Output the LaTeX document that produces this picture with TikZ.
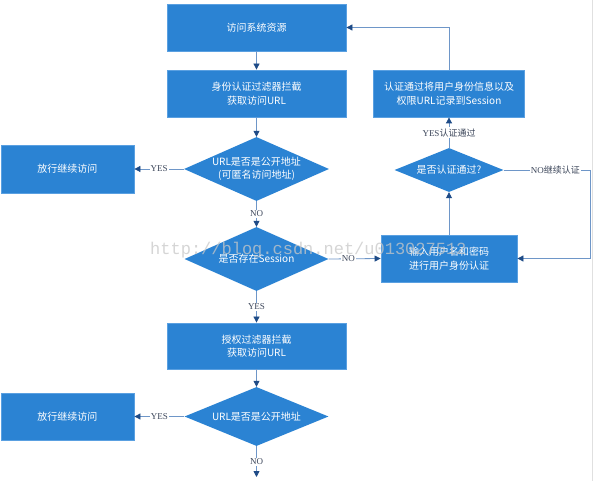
\documentclass[tikz,border=0pt]{standalone}
\usepackage{fontspec}
\setmainfont{Noto Sans CJK SC}
\newfontfamily\latserif{Liberation Serif}
\newfontfamily\wmfont{Liberation Mono}
\usetikzlibrary{shapes.geometric,arrows.meta}
\definecolor{boxblue}{RGB}{43,131,211}
\definecolor{boxedge}{RGB}{90,160,225}
\definecolor{linec}{RGB}{110,150,200}
\definecolor{arrowc}{RGB}{30,75,135}
\definecolor{lblc}{RGB}{60,70,90}
\definecolor{wmc}{RGB}{200,200,200}
\tikzset{
  blk/.style={draw=boxedge, line width=0.8pt, fill=boxblue, text=white, inner sep=0pt,
    align=center, font=\fontsize{10}{13.5}\selectfont},
  dec/.style={diamond, fill=boxblue, draw=none, inner sep=0pt},
  dectext/.style={text=white, align=center, font=\fontsize{10}{13}\selectfont},
  arr/.style={draw=linec, line width=0.8pt, -{Triangle[length=6pt,width=6pt,color=arrowc]}},
  lbl/.style={fill=white, text=lblc, inner sep=1pt, font=\fontsize{9}{10}\selectfont},
}
\begin{document}
\begin{tikzpicture}[x=1pt,y=-1pt]
\useasboundingbox (0,0) rectangle (595,481);
\fill[white] (0,0) rectangle (595,481);
\draw[black!12, line width=1pt] (592.5,0) -- (592.5,481);

% main column
\node[blk, minimum width=179pt, minimum height=47pt] (b1) at (256.5,27.5) {访问系统资源};
\node[blk, minimum width=179pt, minimum height=47pt] (b2) at (256.5,93.5) {身份认证过滤器拦截\\获取访问URL};
\node[dec, minimum width=145pt, minimum height=64pt] (d1) at (256.5,169) {};
\node[dectext] at (d1) {URL是否是公开地址\\(可匿名访问地址)};
\node[blk, minimum width=133pt, minimum height=48pt] (p1) at (67.5,169) {放行继续访问};
\node[dec, minimum width=144pt, minimum height=64pt] (d2) at (256.5,259) {};
\node[dectext] at (d2) {是否存在Session};
\node[blk, minimum width=179pt, minimum height=46pt] (b3) at (256.5,346) {授权过滤器拦截\\获取访问URL};
\node[dec, minimum width=144pt, minimum height=59pt] (d3) at (256.5,416.5) {};
\node[dectext] at (d3) {URL是否是公开地址};
\node[blk, minimum width=133pt, minimum height=47pt] (p2) at (67.5,416.5) {放行继续访问};
\coordinate (endc) at (256.5,477);

% right column
\node[blk, minimum width=151pt, minimum height=47pt] (ap) at (449,93.5) {认证通过将用户身份信息以及\\权限URL记录到Session};
\node[dec, minimum width=109pt, minimum height=44pt] (d4) at (449,170) {};
\node[dectext] at (d4) {是否认证通过?};
\node[blk, minimum width=136pt, minimum height=47pt] (in) at (449,258.5) {输入用户名和密码\\进行用户身份认证};
\coordinate (r1) at (590,170);

% connectors
\draw[arr] (b1) -- (b2);
\draw[arr] (b2) -- (d1);
\draw[arr] (d1.west) -- node[lbl]{\latserif YES} (p1.east);
\draw[arr] (d1.south) -- node[lbl]{\latserif NO} (d2.north);
\draw[arr] (d2.east) -- node[lbl,pos=0.38]{\latserif NO} (in.west);
\draw[arr] (d2.south) -- node[lbl]{\latserif YES} (b3.north);
\draw[arr] (b3) -- (d3);
\draw[arr] (d3.west) -- node[lbl]{\latserif YES} (p2.east);
\draw[arr] (d3.south) -- node[lbl]{\latserif NO} (endc);
\draw[arr] (in.north) -- (d4.south);
\draw[arr] (d4.north) -- node[lbl]{{\latserif YES}认证通过} (ap.south);
\draw[arr] (d4.east) -- node[lbl,pos=0.6]{{\latserif NO}继续认证} (r1) |- (in.east);
\draw[arr] (ap.north) |- (b1.east);

% watermark
\node[font=\wmfont\fontsize{17}{17}\selectfont, text=wmc, opacity=0.75, anchor=west, inner sep=0pt] (wm) at (150,250) {http://blog.csdn.net/u013027512};
\end{tikzpicture}
\end{document}
